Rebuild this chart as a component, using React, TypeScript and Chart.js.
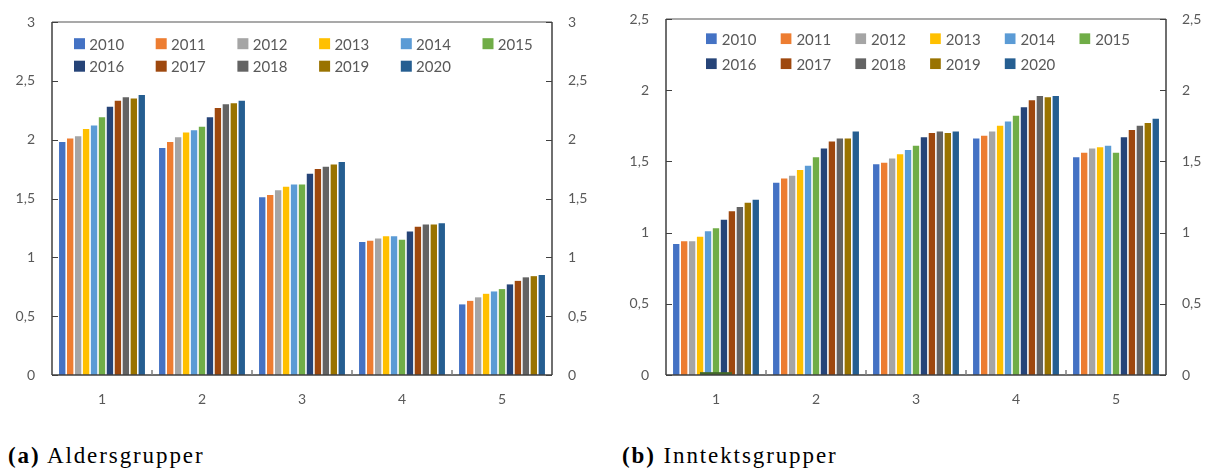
import React, { useEffect, useRef } from "react";
import { Chart, registerables } from "chart.js";

Chart.register(...registerables);

// ---------- data ----------
const categories = ["1", "2", "3", "4", "5"];
const years = ["2010", "2011", "2012", "2013", "2014", "2015", "2016", "2017", "2018", "2019", "2020"];
const yearColors = [
  "#4472C4", "#ED7D31", "#A5A5A5", "#FFC000", "#5B9BD5", "#70AD47",
  "#264478", "#9E480E", "#636363", "#997300", "#255E91",
];

// (a) Aldersgrupper — one array per year, across categories 1..5
const age2010 = [1.98, 1.93, 1.51, 1.13, 0.6];
const age2011 = [2.01, 1.98, 1.53, 1.14, 0.63];
const age2012 = [2.03, 2.02, 1.57, 1.16, 0.66];
const age2013 = [2.09, 2.06, 1.6, 1.18, 0.69];
const age2014 = [2.12, 2.08, 1.62, 1.18, 0.71];
const age2015 = [2.19, 2.11, 1.62, 1.15, 0.73];
const age2016 = [2.28, 2.19, 1.71, 1.22, 0.77];
const age2017 = [2.33, 2.27, 1.75, 1.26, 0.8];
const age2018 = [2.36, 2.3, 1.77, 1.28, 0.83];
const age2019 = [2.35, 2.31, 1.79, 1.28, 0.84];
const age2020 = [2.38, 2.33, 1.81, 1.29, 0.85];

// (b) Inntektsgrupper
const inc2010 = [0.92, 1.35, 1.48, 1.66, 1.53];
const inc2011 = [0.94, 1.38, 1.49, 1.68, 1.56];
const inc2012 = [0.94, 1.4, 1.52, 1.71, 1.59];
const inc2013 = [0.97, 1.44, 1.55, 1.75, 1.6];
const inc2014 = [1.01, 1.47, 1.58, 1.78, 1.61];
const inc2015 = [1.03, 1.53, 1.61, 1.82, 1.56];
const inc2016 = [1.09, 1.59, 1.67, 1.88, 1.67];
const inc2017 = [1.15, 1.64, 1.7, 1.93, 1.72];
const inc2018 = [1.18, 1.66, 1.71, 1.96, 1.75];
const inc2019 = [1.21, 1.66, 1.7, 1.95, 1.77];
const inc2020 = [1.23, 1.71, 1.71, 1.96, 1.8];
const incMarker = [0.02, null, null, null, null];

const ageSeries = [age2010, age2011, age2012, age2013, age2014, age2015, age2016, age2017, age2018, age2019, age2020];
const incSeries = [inc2010, inc2011, inc2012, inc2013, inc2014, inc2015, inc2016, inc2017, inc2018, inc2019, inc2020];

const ageYMax = 3;
const incYMax = 2.5;
const yStep = 0.5;

const FONT = "Lato, 'Open Sans', sans-serif";
const TEXT = "#595959";

type PanelProps = {
  series: number[][];
  yMax: number;
  width: number;
  height: number;
  leftW: number;
  rightW: number;
  padTop: number;
  legend: { x: number; y: number; step: number; rowStep: number; box: number; textOff: number };
  marker?: (number | null)[];
};

function Panel(p: PanelProps) {
  const ref = useRef<HTMLCanvasElement | null>(null);
  useEffect(() => {
    if (!ref.current) return;
    const fmt = (v: any) => String(v).replace(".", ",");
    const datasets: any[] = p.series.map((d, i) => ({
      label: years[i],
      data: d,
      backgroundColor: yearColors[i],
      borderWidth: 0,
      barPercentage: 0.8,
      categoryPercentage: 0.875,
    }));
    if (p.marker) {
      datasets.push({
        label: "_marker",
        data: p.marker,
        backgroundColor: "#43682B",
        borderWidth: 0,
        grouped: false,
        order: -1,
        barPercentage: 1,
        categoryPercentage: 0.32,
      });
    }
    const lg = p.legend;
    const decor = {
      id: "decor",
      afterDraw(chart: any) {
        const ctx = chart.ctx;
        const a = chart.chartArea;
        const ys = chart.scales.y;
        ctx.save();
        // top border
        ctx.strokeStyle = "#8C8C8C";
        ctx.lineWidth = 1.5;
        ctx.beginPath();
        ctx.moveTo(a.left, a.top);
        ctx.lineTo(a.right, a.top);
        ctx.stroke();
        // axes
        ctx.strokeStyle = "#404040";
        ctx.lineWidth = 1.5;
        ctx.beginPath();
        ctx.moveTo(a.left, a.top);
        ctx.lineTo(a.left, a.bottom);
        ctx.moveTo(a.right, a.top);
        ctx.lineTo(a.right, a.bottom);
        ctx.moveTo(a.left, a.bottom);
        ctx.lineTo(a.right, a.bottom);
        ctx.stroke();
        // y ticks (inward) + labels on both sides
        ctx.lineWidth = 1;
        ctx.beginPath();
        ys.ticks.forEach((t: any) => {
          const y = Math.round(ys.getPixelForValue(t.value)) + 0.5;
          ctx.moveTo(a.left, y);
          ctx.lineTo(a.left + 6, y);
          ctx.moveTo(a.right - 6, y);
          ctx.lineTo(a.right, y);
        });
        ctx.stroke();
        ctx.font = `14px ${FONT}`;
        ctx.fillStyle = TEXT;
        ctx.textBaseline = "middle";
        ys.ticks.forEach((t: any) => {
          const y = ys.getPixelForValue(t.value);
          const s = fmt(t.value);
          ctx.textAlign = "right";
          ctx.fillText(s, a.left - 17, y);
          ctx.textAlign = "left";
          ctx.fillText(s, a.right + 16, y);
        });
        // x category boundary ticks
        const n = categories.length;
        ctx.strokeStyle = "#7F7F7F";
        ctx.lineWidth = 1.5;
        ctx.beginPath();
        for (let i = 1; i < n; i++) {
          const x = a.left + (i * (a.right - a.left)) / n;
          ctx.moveTo(x, a.bottom);
          ctx.lineTo(x, a.bottom - 5);
        }
        ctx.stroke();
        // legend
        ctx.font = `15px ${FONT}`;
        ctx.textBaseline = "middle";
        ctx.textAlign = "left";
        years.forEach((yr, i) => {
          const row = Math.floor(i / 6);
          const col = i % 6;
          const x = a.left + lg.x + col * lg.step;
          const y = a.top + lg.y + row * lg.rowStep;
          ctx.fillStyle = yearColors[i];
          ctx.fillRect(x, y - lg.box / 2, lg.box, lg.box);
          ctx.fillStyle = TEXT;
          ctx.fillText(yr, x + lg.textOff, y + 1);
        });
        ctx.restore();
      },
    };
    const chart = new Chart(ref.current, {
      type: "bar",
      data: { labels: categories, datasets },
      options: {
        responsive: false,
        animation: false,
        devicePixelRatio: 1,
        layout: { padding: { top: p.padTop, left: 0, right: 0, bottom: 0 } },
        plugins: { legend: { display: false }, tooltip: { enabled: false } },
        scales: {
          x: {
            type: "category",
            offset: true,
            grid: { display: false, drawTicks: false },
            border: { display: false },
            ticks: { color: TEXT, font: { family: FONT, size: 14 }, padding: 16 },
            afterFit: (s: any) => { s.height = 45; },
          },
          y: {
            position: "left",
            min: 0,
            max: p.yMax,
            ticks: { stepSize: yStep, display: false },
            grid: { display: false, drawTicks: false },
            border: { display: false },
            afterFit: (s: any) => { s.width = p.leftW; },
          },
          y2: {
            position: "right",
            min: 0,
            max: p.yMax,
            ticks: { stepSize: yStep, display: false },
            grid: { display: false, drawTicks: false },
            border: { display: false },
            afterFit: (s: any) => { s.width = p.rightW; },
          },
        },
      } as any,
      plugins: [decor],
    });
    return () => chart.destroy();
  }, []);
  return <canvas ref={ref} width={p.width} height={p.height} style={{ display: "block", width: p.width, height: p.height }} />;
}

const captionStyle: React.CSSProperties = {
  position: "absolute",
  top: 443,
  fontFamily: "'Liberation Serif', 'Times New Roman', serif",
  fontSize: 23,
  letterSpacing: 1.9,
  color: "#000",
  whiteSpace: "nowrap",
  lineHeight: "26px",
};

export default function App() {
  return (
    <div style={{ position: "absolute", left: 0, top: 0, width: 1208, height: 470, background: "#fff", overflow: "hidden" }}>
      <div style={{ position: "absolute", left: 0, top: 0 }}>
        <Panel
          series={ageSeries}
          yMax={ageYMax}
          width={600}
          height={420}
          leftW={52}
          rightW={48}
          padTop={22}
          legend={{ x: 22, y: 21.7, step: 81.7, rowStep: 22.5, box: 11, textOff: 15.3 }}
        />
      </div>
      <div style={{ position: "absolute", left: 600, top: 0 }}>
        <Panel
          series={incSeries}
          yMax={incYMax}
          width={608}
          height={420}
          leftW={66}
          rightW={42}
          padTop={19}
          legend={{ x: 40, y: 19.7, step: 74.7, rowStep: 25, box: 10.7, textOff: 15.7 }}
          marker={incMarker}
        />
      </div>
      <div style={{ ...captionStyle, left: 8 }}>
        <b>(a)</b> Aldersgrupper
      </div>
      <div style={{ ...captionStyle, left: 622 }}>
        <b>(b)</b> Inntektsgrupper
      </div>
    </div>
  );
}
